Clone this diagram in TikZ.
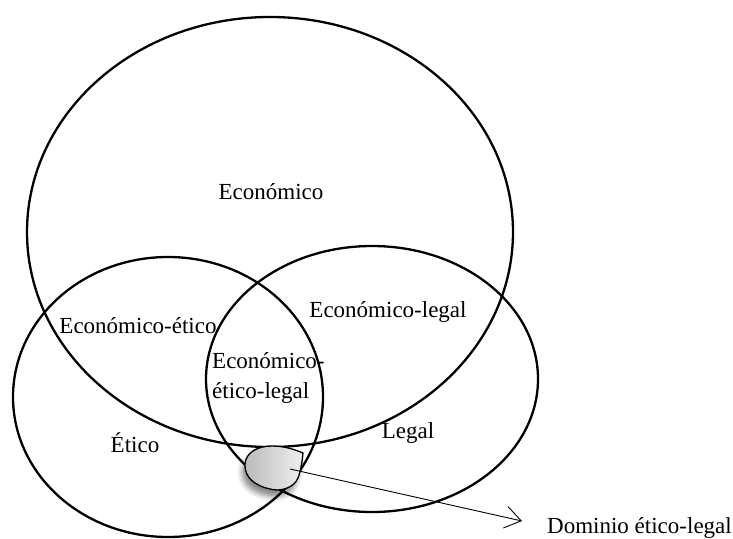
\documentclass[tikz,border=0pt]{standalone}
\usepackage{fontspec}
\setmainfont{Liberation Serif}
\usetikzlibrary{arrows.meta,shadows.blur}

\begin{document}
\begin{tikzpicture}[x=1pt,y=-1pt,
  conjunto/.style={line width=2.3pt},
  etiqueta/.style={font=\fontsize{23}{30}\selectfont, inner sep=0pt},
  zona/.style={draw, line width=1.3pt, left color=gray!55, right color=gray!12,
    blur shadow={shadow xshift=-3pt, shadow yshift=-7pt, shadow blur radius=5pt, shadow opacity=45}}]
\useasboundingbox (0,0) rectangle (733,538);
% los tres conjuntos
\draw[conjunto] (270,232) ellipse [x radius=243, y radius=215];
\draw[conjunto] (168,397) ellipse [x radius=155, y radius=140];
\draw[conjunto] (372,379) ellipse [x radius=166, y radius=133];
% zona gris
\path[zona] (303,453) .. controls (302,462) and (301,470) .. (298,478)
  .. controls (294,488) and (280,492) .. (270,489)
  .. controls (255,486) and (244,477) .. (245,464)
  .. controls (246,452) and (258,446) .. (272,446)
  .. controls (285,446) and (296,450) .. (303,453) -- cycle;
\coordinate (origen) at (290,469);
\coordinate (punta) at (522,521);
% etiquetas
\node[etiqueta] (eco) at (271,192) {Económico};
\node[etiqueta] (ecoetico) at (138,326) {Económico-ético};
\node[etiqueta] (ecolegal) at (388,312) {Económico-legal};
\node[etiqueta, align=left, anchor=west] (todos) at (212,378) {Económico-\\ético-legal};
\node[etiqueta] (etico) at (135,443) {Ético};
\node[etiqueta] (legal) at (408,433) {Legal};
\node[etiqueta, anchor=west] (dominio) at (547,528) {Dominio ético-legal};
\draw[line width=0.9pt, -{Straight Barb[length=16pt, width=22pt]}] (origen) -- (punta);
\end{tikzpicture}
\end{document}
